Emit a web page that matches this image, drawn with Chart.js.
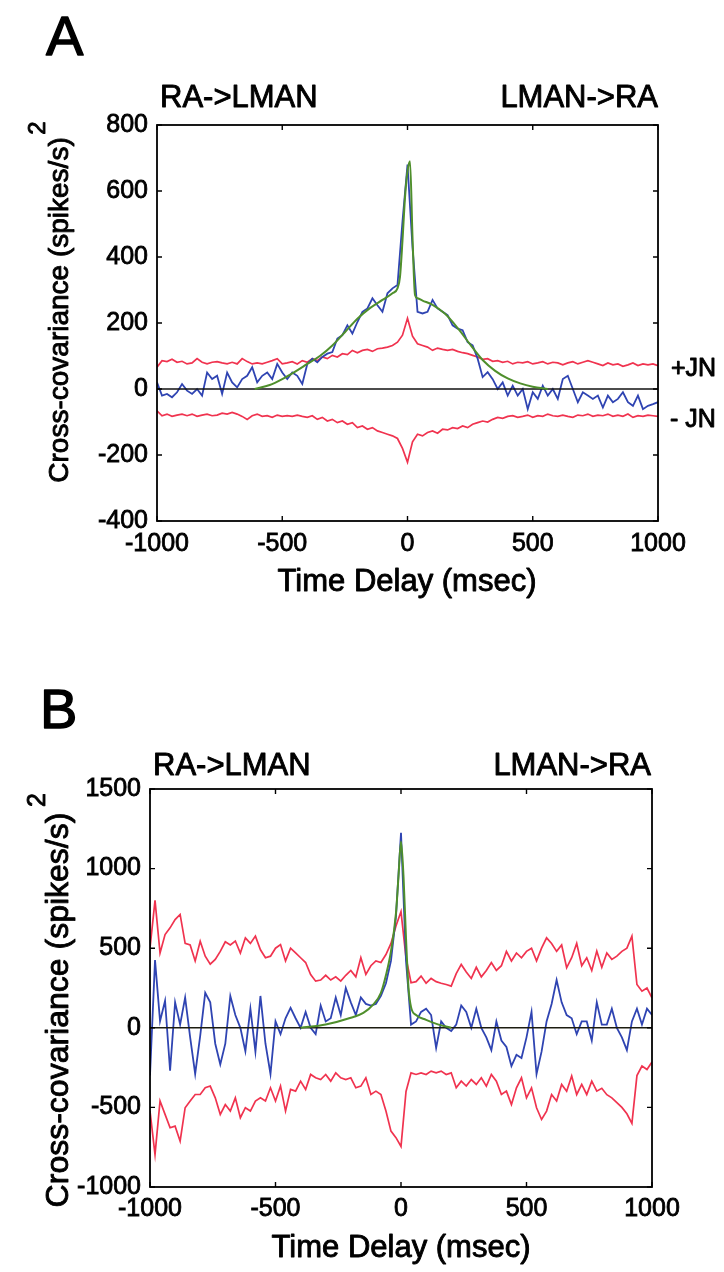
<!DOCTYPE html>
<html><head><meta charset="utf-8">
<script src="https://cdn.jsdelivr.net/npm/chart.js@4.4.1/dist/chart.umd.min.js"></script>
<style>
html,body{margin:0;padding:0;background:#fff;}
#wrap{position:relative;width:724px;height:1272px;background:#fff;}
canvas{position:absolute;left:0;}
</style></head><body>
<div id="wrap">
<canvas id="cA" width="724" height="640" style="top:0px"></canvas>
<canvas id="cB" width="724" height="632" style="top:640px"></canvas>
</div>
<script>
// ---------- data ----------
const binTimes = Array.from({length: 101}, (_, i) => -1000 + 20 * i); // ms bins
const xTicks = [-1000, -500, 0, 500, 1000];
const yTicksA = [-400, -200, 0, 200, 400, 600, 800];
const yTicksB = [-1000, -500, 0, 500, 1000, 1500];
const zeroLine = [0, 0];
const zeroTimes = [-1000, 1000];

// Panel A
const upperA = [66,86,83,90,81,84,76,79,92,81,
  76,81,83,79,76,81,76,92,83,76,
  79,76,81,86,92,76,79,83,76,86,
  81,92,86,97,92,102,97,107,104,117,
  110,117,120,114,122,124,127,132,142,163,
  214,160,137,132,127,117,124,120,117,120,
  114,110,107,102,97,90,92,84,86,81,
  84,76,81,79,83,76,79,83,76,81,
  79,73,79,83,76,81,86,81,76,71,
  79,73,76,69,73,79,71,76,73,76,
  71];
const lowerA = [-66,-81,-76,-83,-79,-76,-81,-76,-83,-79,
  -76,-81,-79,-73,-76,-71,-76,-83,-92,-81,
  -76,-83,-81,-86,-79,-83,-81,-83,-79,-83,
  -86,-81,-92,-86,-97,-92,-102,-97,-107,-102,
  -117,-112,-122,-117,-127,-132,-137,-142,-150,-180,
  -222,-160,-137,-142,-132,-127,-134,-122,-124,-117,
  -120,-112,-117,-107,-102,-97,-100,-92,-86,-89,
  -83,-81,-86,-83,-79,-86,-81,-83,-76,-81,
  -83,-79,-83,-86,-79,-81,-76,-83,-79,-81,
  -76,-83,-79,-83,-76,-86,-81,-83,-79,-81,
  -83];
const covA = [20,-20,-15,-25,-10,15,-5,-15,0,-20,
  50,30,40,-15,50,20,5,30,40,66,
  20,40,50,30,76,50,30,50,40,15,
  76,92,81,97,107,112,153,163,193,168,
  203,234,244,275,254,234,290,305,315,508,
  680,430,234,229,234,270,244,234,224,193,
  183,178,142,132,92,36,51,30,0,20,
  -20,10,-20,0,-61,-10,-30,10,-20,0,
  -30,30,40,0,-40,-10,-20,-30,-20,-56,
  -20,-40,-30,-10,-40,-51,-20,-61,-51,-46,
  -40];
const fitTimesA = [-610,-550,-500,-450,-400,-350,-300,-250,-200,-150,
  -100,-60,-40,-30,-20,-10,0,10,20,30,
  40,60,100,150,200,250,300,350,400,450,
  500,560];
const fitA = [0,12,30,52,76,100,132,172,213,245,
  270,290,305,340,450,580,660,690,460,285,
  275,268,255,228,185,135,88,55,32,17,
  7,0];

// Panel B
const upperB = [500,800,470,586,628,680,712,530,520,420,
  544,450,400,430,480,540,520,545,470,565,
  530,576,490,440,450,500,523,420,500,470,
  440,410,335,293,300,330,300,320,293,330,
  360,320,440,335,390,420,410,460,530,640,
  730,440,283,290,325,280,310,290,280,272,
  262,340,398,350,310,380,320,360,410,360,
  390,480,420,470,440,480,500,420,500,565,
  530,480,520,377,440,530,390,440,360,482,
  380,470,430,450,480,500,576,272,230,250,
  188];
const lowerB = [-523,-796,-460,-544,-628,-618,-712,-502,-460,-419,
  -419,-377,-366,-440,-544,-482,-523,-440,-565,-502,
  -523,-460,-440,-460,-377,-460,-366,-523,-387,-398,
  -335,-387,-293,-314,-325,-293,-335,-283,-314,-325,
  -314,-377,-366,-314,-419,-398,-419,-523,-649,-690,
  -745,-400,-283,-293,-283,-293,-272,-283,-272,-293,
  -283,-377,-335,-366,-325,-356,-314,-366,-293,-335,
  -419,-398,-482,-377,-314,-440,-377,-502,-576,-523,
  -419,-460,-356,-398,-303,-419,-356,-419,-335,-398,
  -380,-420,-440,-470,-500,-540,-600,-300,-240,-262,
  -215];
const covB = [-300,425,42,170,-270,160,20,190,-60,-290,
  -50,220,160,-100,-230,-100,200,80,0,-147,
  120,-150,200,-100,-290,40,-40,60,126,60,
  0,100,0,-40,140,40,60,190,80,250,
  160,80,190,150,140,150,200,280,420,700,
  1225,420,20,40,100,120,80,-126,40,0,
  -20,20,140,100,0,120,0,-60,-140,40,
  -80,-120,-240,-170,-190,-60,100,-290,-150,40,
  150,300,160,80,60,-40,40,40,-80,160,
  20,20,120,0,-60,-140,40,120,20,120,
  80];
const fitTimesB = [-400,-300,-200,-150,-110,-80,-60,-40,-20,-10,
  0,10,20,30,40,60,100,150,200];
const fitB = [0,21,63,94,147,220,330,480,720,950,
  1170,950,560,250,130,80,50,20,0];

// ---------- drawing ----------
const FONT = "'Liberation Sans', Arial, Helvetica, sans-serif";
const RED = '#f0334f', BLUE = '#2f44b2', GREEN = '#4f8f2c', BLACK = '#111';

const pts = (ts, vs) => vs.map((v, i) => ({x: ts[i], y: v}));

function framePlugin(texts) {
  return {
    id: 'frame',
    afterDraw(chart) {
      const {ctx, chartArea: a, scales: {x, y}} = chart;
      ctx.save();
      ctx.strokeStyle = '#000';
      ctx.lineWidth = 1.8;
      ctx.strokeRect(a.left, a.top, a.right - a.left, a.bottom - a.top);
      ctx.lineWidth = 1.4;
      ctx.beginPath();
      x.ticks.forEach(t => {
        const p = x.getPixelForValue(t.value);
        ctx.moveTo(p, a.bottom); ctx.lineTo(p, a.bottom - 5);
        ctx.moveTo(p, a.top); ctx.lineTo(p, a.top + 5);
      });
      y.ticks.forEach(t => {
        const p = y.getPixelForValue(t.value);
        ctx.moveTo(a.left, p); ctx.lineTo(a.left + 5, p);
        ctx.moveTo(a.right, p); ctx.lineTo(a.right - 5, p);
      });
      ctx.stroke();
      ctx.fillStyle = '#000';
      ctx.strokeStyle = '#000';
      ctx.lineJoin = 'round';
      texts.forEach(tx => {
        ctx.save();
        ctx.font = tx.size + 'px ' + FONT;
        ctx.textAlign = tx.align || 'left';
        ctx.textBaseline = 'alphabetic';
        ctx.translate(tx.x, tx.y);
        if (tx.rot) ctx.rotate(-Math.PI / 2);
        ctx.fillText(tx.text, 0, 0);
        ctx.lineWidth = tx.sw || 0.9;
        ctx.strokeText(tx.text, 0, 0);
        ctx.restore();
      });
      ctx.restore();
    }
  };
}

const tickFont = {family: FONT, size: 25};

function makePanel(id, p) {
  return new Chart(document.getElementById(id), {
    type: 'line',
    data: {
      datasets: [
        {data: pts(p.fitTimes, p.fit), borderColor: GREEN, borderWidth: 2, pointRadius: 0, tension: 0.25, cubicInterpolationMode: 'monotone', order: 0},
        {data: pts(zeroTimes, zeroLine), borderColor: p.zeroColor, borderWidth: 1.6, pointRadius: 0, order: 1},
        {data: pts(binTimes, p.cov), borderColor: BLUE, borderWidth: 1.8, pointRadius: 0, tension: 0, order: 2},
        {data: pts(binTimes, p.upper), borderColor: RED, borderWidth: 1.7, pointRadius: 0, tension: 0, order: 3},
        {data: pts(binTimes, p.lower), borderColor: RED, borderWidth: 1.7, pointRadius: 0, tension: 0, order: 3}
      ]
    },
    options: {
      responsive: false, animation: false, devicePixelRatio: 1,
      layout: {padding: {left: 0, right: p.padR, top: p.padT, bottom: 0}},
      plugins: {legend: {display: false}, tooltip: {enabled: false}},
      scales: {
        x: {
          type: 'linear', min: -1000, max: 1000,
          afterBuildTicks: s => { s.ticks = xTicks.map(v => ({value: v})); },
          afterFit: s => { s.height = p.xH; },
          grid: {display: false, drawTicks: false}, border: {display: false},
          ticks: {font: tickFont, color: '#000', textStrokeColor: '#000', textStrokeWidth: 0.8,
                  padding: p.xPad, maxRotation: 0, autoSkip: false, callback: v => String(v)}
        },
        y: {
          type: 'linear', min: p.yTicks[0], max: p.yTicks[p.yTicks.length - 1],
          afterBuildTicks: s => { s.ticks = p.yTicks.map(v => ({value: v})); },
          afterFit: s => { s.width = p.yW; },
          grid: {display: false, drawTicks: false}, border: {display: false},
          ticks: {font: tickFont, color: '#000', textStrokeColor: '#000', textStrokeWidth: 0.8,
                  padding: 9, autoSkip: false, callback: v => String(v)}
        }
      }
    },
    plugins: [framePlugin(p.texts)]
  });
}

makePanel('cA', {
  upper: upperA, lower: lowerA, cov: covA, fit: fitA, fitTimes: fitTimesA,
  yTicks: yTicksA, padR: 66, padT: 125, yW: 157, xH: 640 - 521, xPad: 8, zeroColor: BLACK,
  texts: [
    {text: 'A', x: 46, y: 55, size: 56, sw: 1.4},
    {text: 'RA->LMAN', x: 160, y: 107, size: 31},
    {text: 'LMAN->RA', x: 658, y: 107, size: 31, align: 'right'},
    {text: '+JN', x: 671, y: 376, size: 25},
    {text: '- JN', x: 670, y: 427, size: 25},
    {text: 'Cross-covariance (spikes/s)', x: 68, y: 310, size: 28, align: 'center', rot: true},
    {text: '2', x: 45, y: 128, size: 24, align: 'center', rot: true},
    {text: 'Time Delay (msec)', x: 407, y: 591, size: 31, align: 'center'}
  ]
});

makePanel('cB', {
  upper: upperB, lower: lowerB, cov: covB, fit: fitB, fitTimes: fitTimesB,
  yTicks: yTicksB, padR: 72, padT: 149, yW: 150, xH: 632 - 547, xPad: 7, zeroColor: '#1c1c10',
  texts: [
    {text: 'B', x: 40, y: 88, size: 56, sw: 1.4},
    {text: 'RA->LMAN', x: 153, y: 135, size: 31},
    {text: 'LMAN->RA', x: 651, y: 135, size: 31, align: 'right'},
    {text: 'Cross-covariance (spikes/s)', x: 68, y: 370, size: 32, align: 'center', rot: true},
    {text: '2', x: 45, y: 160, size: 25, align: 'center', rot: true},
    {text: 'Time Delay (msec)', x: 401, y: 617, size: 31, align: 'center'}
  ]
});
</script>
</body></html>
